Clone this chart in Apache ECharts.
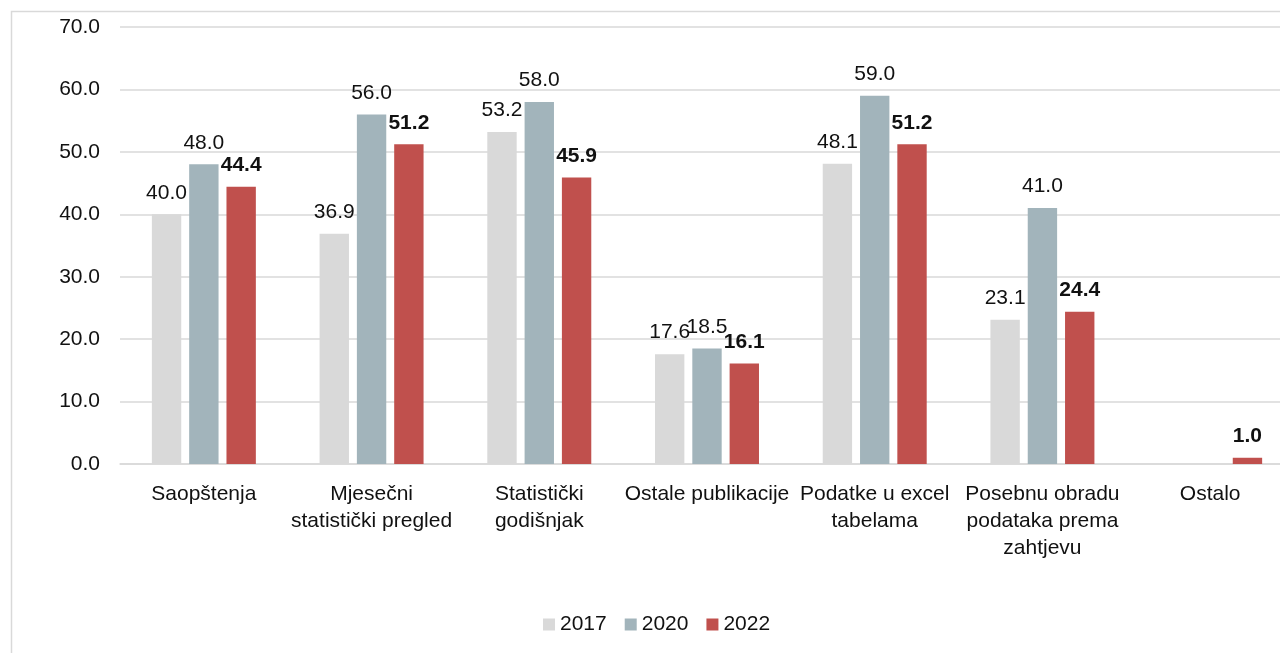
<!DOCTYPE html>
<html>
<head>
<meta charset="utf-8">
<script src="https://cdn.jsdelivr.net/npm/echarts@6/dist/echarts.min.js"></script>
<style>
html,body{margin:0;padding:0;background:#fff;overflow:hidden;width:1280px;height:653px;}
#chart{width:1300px;height:653px;}
</style>
</head>
<body>
<div id="chart"></div>
<script>
const categories = [
  "Saopštenja",
  "Mjesečni\nstatistički pregled",
  "Statistički\ngodišnjak",
  "Ostale publikacije",
  "Podatke u excel\ntabelama",
  "Posebnu obradu\npodataka prema\nzahtjevu",
  "Ostalo"
];
const seriesNames = ["2017", "2020", "2022"];
const values2017 = [40.0, 36.9, 53.2, 17.6, 48.1, 23.1, null];
const values2020 = [48.0, 56.0, 58.0, 18.5, 59.0, 41.0, null];
const values2022 = [44.4, 51.2, 45.9, 16.1, 51.2, 24.4, 1.0];
const yTicks = { min: 0, max: 70, interval: 10 };

const colors = ["#d9d9d9", "#a2b4bb", "#c0504d"];
const FONT = "Liberation Sans, Arial, sans-serif";
const TXT = "#111";

function makeSeries(name, data, color, bold) {
  return {
    name: name,
    type: "bar",
    data: data,
    barGap: "27%",
    barCategoryGap: "38%",
    itemStyle: { color: color },
    label: {
      show: true,
      position: "top",
      distance: 11,
      formatter: p => (p.value == null ? "" : Number(p.value).toFixed(1)),
      fontFamily: FONT,
      fontSize: 21,
      fontWeight: bold ? "bold" : "normal",
      color: TXT
    }
  };
}

const chart = echarts.init(document.getElementById("chart"), null, { renderer: "canvas" });
chart.setOption({
  animation: false,
  backgroundColor: "#fff",
  graphic: [{
    type: "rect",
    shape: { x: 11.5, y: 11.5, width: 1400, height: 800 },
    style: { fill: "none", stroke: "#d9d9d9", lineWidth: 1.5 },
    silent: true
  }],
  grid: { left: 120, width: 1174, top: 27, height: 437, containLabel: false },
  legend: {
    data: seriesNames,
    left: 538,
    top: 609,
    itemWidth: 12,
    itemHeight: 12,
    itemGap: 18,
    icon: "rect",
    textStyle: { fontFamily: FONT, fontSize: 21, color: TXT }
  },
  xAxis: {
    type: "category",
    data: categories,
    axisLine: { show: true, lineStyle: { color: "#d9d9d9", width: 1.5 } },
    axisTick: { show: false },
    axisLabel: {
      interval: 0,
      margin: 17,
      fontFamily: FONT,
      fontSize: 21,
      lineHeight: 27,
      color: TXT,
      verticalAlign: "top"
    }
  },
  yAxis: {
    type: "value",
    min: yTicks.min,
    max: yTicks.max,
    interval: yTicks.interval,
    axisLine: { show: false },
    axisTick: { show: false },
    splitLine: { lineStyle: { color: "#d9d9d9", width: 1.5 } },
    axisLabel: {
      margin: 20,
      formatter: v => v.toFixed(1),
      fontFamily: FONT,
      fontSize: 21,
      color: TXT
    }
  },
  series: [
    makeSeries(seriesNames[0], values2017, colors[0], false),
    makeSeries(seriesNames[1], values2020, colors[1], false),
    makeSeries(seriesNames[2], values2022, colors[2], true)
  ]
});
</script>
</body>
</html>
